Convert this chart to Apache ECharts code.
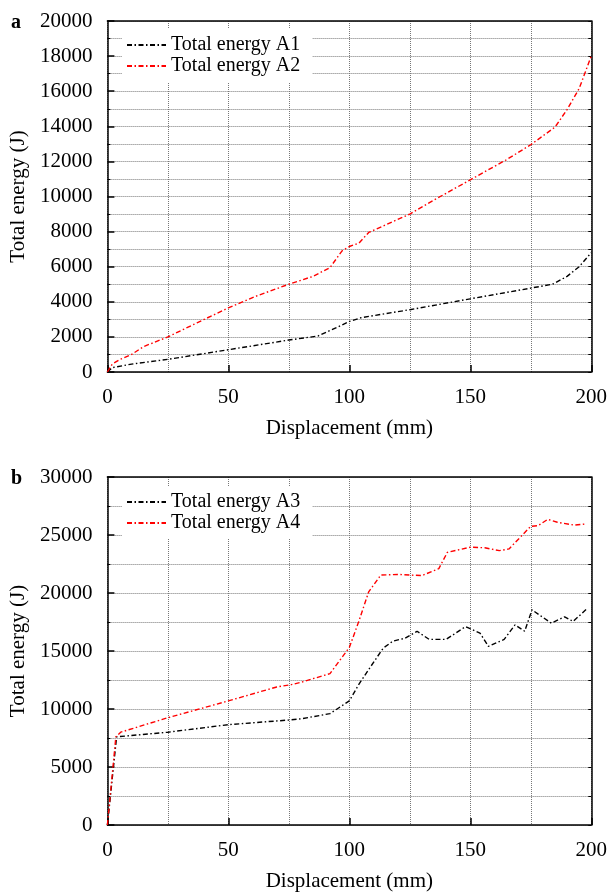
<!DOCTYPE html>
<html>
<head>
<meta charset="utf-8">
<script src="https://cdn.jsdelivr.net/npm/echarts@6/dist/echarts.min.js"></script>
<style>html,body{margin:0;padding:0;background:#fff;}#c{width:610px;height:893px;}</style>
</head>
<body>
<div id="c"></div>
<script>
// Panel a
var a1X = [0, 2, 10, 25, 50, 75, 87, 95, 100, 105, 125, 150, 175, 184, 190, 195, 200];
var a1Y = [0, 250, 450, 720, 1270, 1820, 2050, 2550, 2880, 3100, 3550, 4170, 4780, 5000, 5450, 6000, 6800];
var a2X = [0, 2, 5, 10, 15, 25, 37, 50, 62, 75, 85, 92, 97, 100, 104, 108, 125, 135, 150, 165, 175, 185, 190, 195, 200];
var a2Y = [0, 450, 700, 1000, 1450, 2000, 2800, 3650, 4350, 5000, 5450, 5950, 6900, 7150, 7350, 7950, 9000, 9800, 10950, 12100, 12950, 13950, 14950, 16150, 18000];
// Panel b
var a3X = [0, 3.8, 25, 50, 75, 80, 92, 100, 104, 108, 114, 118, 123, 128, 133, 140, 148, 154, 157.5, 164, 168.5, 172.5, 175.5, 183.5, 189, 192.5, 198];
var a3Y = [0, 7600, 8000, 8650, 9050, 9150, 9600, 10700, 12150, 13400, 15250, 15850, 16100, 16700, 16000, 16000, 17100, 16550, 15400, 16000, 17250, 16700, 18550, 17400, 17950, 17550, 18600];
var a4X = [0, 3.5, 5.5, 25, 50, 70, 76, 80, 92, 100, 104, 108, 113, 120, 130, 137, 140.5, 150, 156, 162, 166, 175, 178, 182, 186, 193, 197.5];
var a4Y = [0, 7600, 8000, 9250, 10700, 11900, 12100, 12300, 13050, 15300, 17600, 20100, 21550, 21600, 21500, 22100, 23500, 23950, 23900, 23650, 23800, 25750, 25800, 26350, 26100, 25850, 25950];

var names = ['Total energy A1', 'Total energy A2', 'Total energy A3', 'Total energy A4'];
var panelLabels = ['a', 'b'];
var xTitle = 'Displacement (mm)';
var yTitle = 'Total energy (J)';

function pairs(xs, ys) { return xs.map(function (x, i) { return [x, ys[i]]; }); }

var FF = 'Liberation Serif';
var gridStyle = { type: [1, 1], color: '#777', width: 1 };
var dash = [5, 2.5, 1.5, 2.5];
function plain(v) { return String(v); }

function mainX(gi) {
  return {
    gridIndex: gi, type: 'value', min: 0, max: 200, interval: 50,
    axisLine: { show: true, onZero: false, lineStyle: { color: '#000', width: 1.5 } },
    axisTick: { show: true, inside: true, length: 7, lineStyle: { color: '#000', width: 1.5 } },
    axisLabel: { fontSize: 21, color: '#000', fontFamily: FF, margin: 15, formatter: plain },
    splitLine: { show: false },
    name: xTitle, nameLocation: 'middle', nameGap: 46,
    nameTextStyle: { fontSize: 21, color: '#000', fontFamily: FF }
  };
}
function topX(gi) {
  return {
    gridIndex: gi, type: 'value', min: 0, max: 200, interval: 25, position: 'top',
    axisLine: { show: true, onZero: false, lineStyle: { color: '#000', width: 1.5 } },
    axisTick: { show: false }, axisLabel: { show: false },
    splitLine: { show: true, lineStyle: gridStyle }
  };
}
function mainY(gi, max, interval) {
  return {
    gridIndex: gi, type: 'value', min: 0, max: max, interval: interval,
    axisLine: { show: true, onZero: false, lineStyle: { color: '#000', width: 1.5 } },
    axisTick: { show: true, inside: true, length: 7, lineStyle: { color: '#000', width: 1.5 } },
    minorTick: { show: true, splitNumber: 2, length: 3, lineStyle: { color: '#000', width: 1 } },
    axisLabel: { fontSize: 21, color: '#000', fontFamily: FF, margin: 15, formatter: plain },
    splitLine: { show: false },
    name: yTitle, nameLocation: 'middle', nameGap: 64,
    nameTextStyle: { fontSize: 21, color: '#000', fontFamily: FF }
  };
}
function rightY(gi, max, interval) {
  return {
    gridIndex: gi, type: 'value', min: 0, max: max, interval: interval, position: 'right',
    axisLine: { show: true, onZero: false, lineStyle: { color: '#000', width: 1.5 } },
    axisTick: { show: true, inside: true, length: 3, lineStyle: { color: '#000', width: 1 } },
    axisLabel: { show: false },
    splitLine: { show: true, lineStyle: gridStyle }
  };
}
function line(name, xi, yi, data, color) {
  return {
    name: name, type: 'line', xAxisIndex: xi, yAxisIndex: yi, data: data,
    symbol: 'none', showSymbol: false, smooth: false, animation: false,
    lineStyle: { color: color, width: 1.4, type: dash },
    itemStyle: { color: color }
  };
}
function legend(items, top) {
  return {
    data: items, orient: 'vertical', left: 122, top: top,
    itemWidth: 39, itemHeight: 14, itemGap: 1, padding: [6, 12, 6, 4],
    backgroundColor: '#fff', z: 10,
    itemStyle: { opacity: 0 },
    textStyle: { fontSize: 20, color: '#000', fontFamily: FF }
  };
}

var chart = echarts.init(document.getElementById('c'), null, { renderer: 'canvas' });
chart.setOption({
  animation: false,
  backgroundColor: '#fff',
  textStyle: { fontFamily: FF },
  title: [
    { text: panelLabels[0], left: 6, top: 8, textStyle: { fontSize: 20, fontWeight: 'bold', fontFamily: FF, color: '#000' } },
    { text: panelLabels[1], left: 6, top: 464, textStyle: { fontSize: 20, fontWeight: 'bold', fontFamily: FF, color: '#000' } }
  ],
  grid: [
    { left: 107, width: 486, top: 21, height: 351 },
    { left: 107, width: 486, top: 477, height: 352 }
  ],
  xAxis: [mainX(0), topX(0), mainX(1), topX(1)],
  yAxis: [mainY(0, 20000, 2000), rightY(0, 20000, 1000), mainY(1, 30000, 5000), rightY(1, 30000, 2500)],
  legend: [legend([names[0], names[1]], 29), legend([names[2], names[3]], 486)],
  series: [
    line(names[0], 0, 0, pairs(a1X, a1Y), '#000000'),
    line(names[1], 0, 0, pairs(a2X, a2Y), '#ff0000'),
    line(names[2], 2, 2, pairs(a3X, a3Y), '#000000'),
    line(names[3], 2, 2, pairs(a4X, a4Y), '#ff0000')
  ]
});
</script>
</body>
</html>
